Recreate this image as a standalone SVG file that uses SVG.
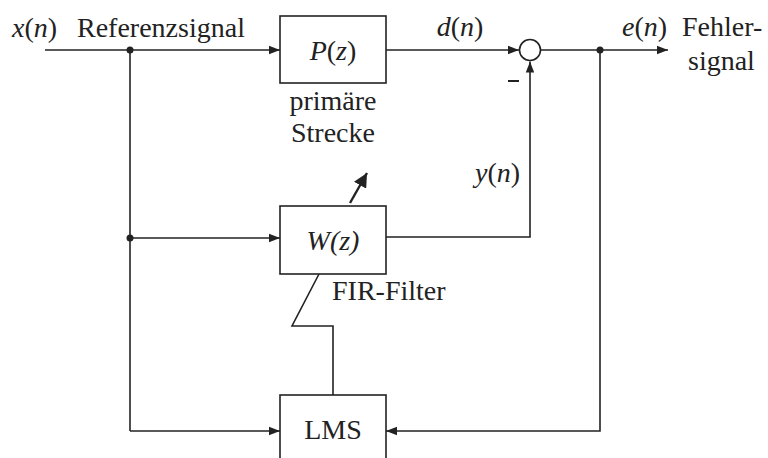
<svg xmlns="http://www.w3.org/2000/svg" width="768" height="458" viewBox="0 0 768 458">
<defs>
<style>
.ln{fill:none;stroke:#222;stroke-width:1.6}
.bx{fill:#fff;stroke:#222;stroke-width:1.6}
.t{font-size:28px;fill:#222}
.i{font-style:italic}
</style>
<marker id="ah" viewBox="0 0 10 10" refX="10" refY="5" markerWidth="11" markerHeight="11" markerUnits="userSpaceOnUse" orient="auto">
<path d="M0,1.2 L10,5 L0,8.8 Z" fill="#222"/>
</marker>
<marker id="ahb" viewBox="0 0 10 10" refX="10" refY="5" markerWidth="14" markerHeight="14" markerUnits="userSpaceOnUse" orient="auto">
<path d="M0,0 L10,5 L0,10 Z" fill="#222"/>
</marker>
</defs>
<rect width="768" height="458" fill="#fff"/>
<g id="connectors">
<line class="ln" x1="45" y1="50" x2="280" y2="50" marker-end="url(#ah)"/>
<line class="ln" x1="386" y1="50" x2="519" y2="50" marker-end="url(#ah)"/>
<line class="ln" x1="541" y1="50" x2="668" y2="50" marker-end="url(#ah)"/>
<line class="ln" x1="130" y1="50" x2="130" y2="431"/>
<line class="ln" x1="130" y1="238" x2="280" y2="238" marker-end="url(#ah)"/>
<line class="ln" x1="130" y1="431" x2="280" y2="431" marker-end="url(#ah)"/>
<polyline class="ln" points="386,237 530,237 530,61.5" marker-end="url(#ah)"/>
<polyline class="ln" points="600,50 600,431 386,431" marker-end="url(#ah)"/>
<polyline class="ln" points="319,274 292,326 333,326 333,395"/>
<line x1="350" y1="203" x2="367" y2="173" stroke="#222" stroke-width="2.4" marker-end="url(#ahb)"/>
<circle cx="130" cy="50" r="3.5" fill="#222"/>
<circle cx="130" cy="238" r="3.5" fill="#222"/>
<circle cx="600" cy="50" r="3.5" fill="#222"/>
</g>
<g font-family="'Liberation Serif', 'Times New Roman', 'DejaVu Serif', serif">
<g id="sum">
<circle class="bx" cx="530" cy="50" r="10.5"/>
<line x1="508" y1="81" x2="519" y2="81" stroke="#222" stroke-width="2"/>
</g>
<g id="P">
<rect class="bx" x="280" y="16" width="106" height="67"/>
<text class="t" x="333" y="60" text-anchor="middle"><tspan class="i">P</tspan>(<tspan class="i">z</tspan>)</text>
<text class="t" x="333" y="110" text-anchor="middle">primäre</text>
<text class="t" x="333" y="142" text-anchor="middle">Strecke</text>
</g>
<g id="W">
<rect class="bx" x="280" y="206" width="106" height="68"/>
<text class="t i" x="333" y="250" text-anchor="middle">W(z)</text>
<text class="t" x="332" y="300">FIR-Filter</text>
</g>
<g id="LMS">
<rect class="bx" x="280" y="395" width="106" height="70"/>
<text class="t" x="333" y="439" text-anchor="middle">LMS</text>
</g>
<g id="labels">
<text class="t" x="12" y="37"><tspan class="i">x</tspan>(<tspan class="i">n</tspan>)</text>
<text class="t" x="77" y="37">Referenzsignal</text>
<text class="t" x="460" y="36" text-anchor="middle"><tspan class="i">d</tspan>(<tspan class="i">n</tspan>)</text>
<text class="t" x="622" y="36"><tspan class="i">e</tspan>(<tspan class="i">n</tspan>)</text>
<text class="t" x="682" y="36">Fehler-</text>
<text class="t" x="688" y="70">signal</text>
<text class="t" x="475" y="182"><tspan class="i">y</tspan>(<tspan class="i">n</tspan>)</text>
</g>
</g>
</svg>
